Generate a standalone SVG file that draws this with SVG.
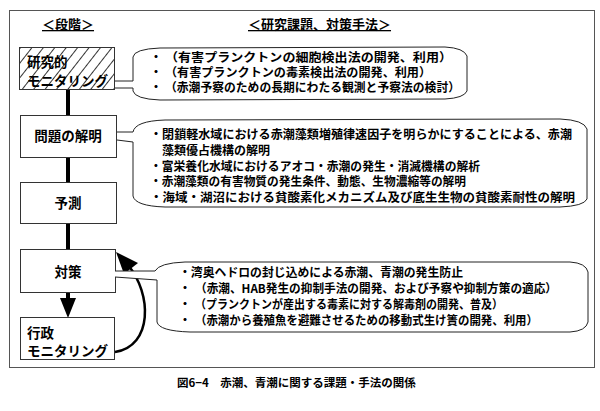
<svg xmlns="http://www.w3.org/2000/svg" width="600" height="411" viewBox="0 0 600 411">
<style>
text{font-family:"Noto Sans CJK JP","Noto Sans CJK SC",sans-serif;fill:#000}
.h{font-size:13px;font-weight:700;text-decoration:underline}
.lbl{font-size:13.5px;font-weight:700}
.t{font-size:12px;font-weight:700}
.cap{font-size:11.5px;font-weight:700}
.box{fill:#fff;stroke:#333;stroke-width:1}
.bub{fill:#fff;stroke:#222;stroke-width:1}
.stem{stroke:#000;stroke-width:4}
</style>
<defs>
<pattern id="hatch" patternUnits="userSpaceOnUse" width="9" height="9" patternTransform="rotate(38)">
<line x1="0" y1="0" x2="0" y2="9" stroke="#000" stroke-width="1.6"/>
</pattern>
</defs>
<rect x="9.5" y="10.5" width="585" height="357" fill="#fff" stroke="#555" stroke-width="1"/>
<text class="h" x="42" y="29">＜段階＞</text>
<text class="h" x="248" y="29">＜研究課題、対策手法＞</text>
<g id="connectors">
<line class="stem" x1="68" y1="89" x2="68" y2="115"/>
<line class="stem" x1="68" y1="157" x2="68" y2="182"/>
<line class="stem" x1="68" y1="223" x2="68" y2="249"/>
<line class="stem" x1="68" y1="292" x2="68" y2="300"/>
<polygon points="60,298 76,298 68,318" fill="#000"/>
<path d="M115,352 C153,346 152,294 128,265" fill="none" stroke="#000" stroke-width="2.5"/>
<polygon points="116,252 138,263 124,274" fill="#000"/>
</g>
<g id="n1">
<rect x="19.5" y="47.5" width="95" height="42" fill="#fff" stroke="#333"/>
<rect x="19.5" y="47.5" width="95" height="42" fill="url(#hatch)" stroke="#333"/>
<text class="lbl" x="27" y="67">研究的</text>
<text class="lbl" x="27" y="86">モニタリング</text>
</g>
<g id="n2">
<rect class="box" x="20.5" y="115.5" width="96" height="42"/>
<text class="lbl" x="68" y="141" text-anchor="middle">問題の解明</text>
</g>
<g id="n3">
<rect class="box" x="20.5" y="182.5" width="96" height="41"/>
<text class="lbl" x="68" y="208" text-anchor="middle">予測</text>
</g>
<g id="n4">
<rect class="box" x="20.5" y="249.5" width="95" height="43"/>
<text class="lbl" x="68" y="277" text-anchor="middle">対策</text>
</g>
<g id="n5">
<rect class="box" x="20.5" y="317.5" width="94" height="42"/>
<text class="lbl" x="27" y="338">行政</text>
<text class="lbl" x="27" y="356">モニタリング</text>
</g>
<g id="c1">
<path class="bub" d="M115,81 L133,81 L133,57 Q134,49 160,48 L445,47 Q464,48 467,56 L467,91 Q464,98 445,99 L160,100 Q135,99 133,91 L133,88 L115,88"/>
<text class="t" x="150" y="62">・</text><text class="t" x="165" y="62" textLength="287" lengthAdjust="spacingAndGlyphs">（有害プランクトンの細胞検出法の開発、利用）</text>
<text class="t" x="150" y="77">・</text><text class="t" x="165" y="77" textLength="266" lengthAdjust="spacingAndGlyphs">（有害プランクトンの毒素検出法の開発、利用）</text>
<text class="t" x="150" y="92">・</text><text class="t" x="165" y="92" textLength="295" lengthAdjust="spacingAndGlyphs">（赤潮予察のための長期にわたる観測と予察法の検討）</text>
</g>
<g id="c2">
<path class="bub" d="M117,132 L133,132 Q135,121 165,120 L560,119 Q584,120 587,129 L587,199 Q584,206 560,207 L165,207 Q135,206 133,196 L133,142 L117,140"/>
<text class="t" x="150" y="139" textLength="422" lengthAdjust="spacingAndGlyphs">・閉鎖軽水域における赤潮藻類増殖律速因子を明らかにすることによる、赤潮</text>
<text class="t" x="162" y="155" textLength="108" lengthAdjust="spacingAndGlyphs">藻類優占機構の解明</text>
<text class="t" x="150" y="171" textLength="330" lengthAdjust="spacingAndGlyphs">・富栄養化水域におけるアオコ・赤潮の発生・消滅機構の解析</text>
<text class="t" x="150" y="186" textLength="316" lengthAdjust="spacingAndGlyphs">・赤潮藻類の有害物質の発生条件、動態、生物濃縮等の解明</text>
<text class="t" x="150" y="202" textLength="425" lengthAdjust="spacingAndGlyphs">・海域・湖沼における貧酸素化メカニズム及び底生生物の貧酸素耐性の解明</text>
</g>
<g id="c3">
<path class="bub" d="M115,271 L155,271 Q159,263 185,262 L570,262 Q586,263 588,272 L588,322 Q586,331 570,332 L190,332 Q159,331 157,322 L157,280 L115,277"/>
<text class="t" x="179" y="277" textLength="284" lengthAdjust="spacingAndGlyphs">・湾奥ヘドロの封じ込めによる赤潮、青潮の発生防止</text>
<text class="t" x="179" y="293">・</text><text class="t" x="195" y="293" textLength="362" lengthAdjust="spacingAndGlyphs">（赤潮、HAB発生の抑制手法の開発、および予察や抑制方策の適応）</text>
<text class="t" x="179" y="309">・</text><text class="t" x="195" y="309" textLength="308" lengthAdjust="spacingAndGlyphs">（プランクトンが産出する毒素に対する解毒剤の開発、普及）</text>
<text class="t" x="179" y="325">・</text><text class="t" x="195" y="325" textLength="343" lengthAdjust="spacingAndGlyphs">（赤潮から養殖魚を避難させるための移動式生け簀の開発、利用）</text>
</g>
<text class="cap" x="177" y="387">図6−4　赤潮、青潮に関する課題・手法の関係</text>
</svg>
